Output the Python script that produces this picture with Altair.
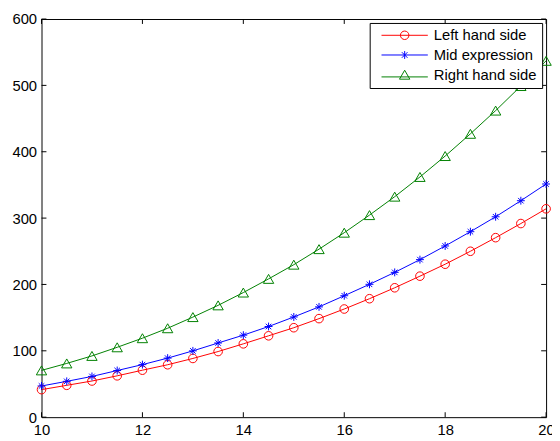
import altair as alt
import pandas as pd

# ---------------- data ----------------
x_values = [10, 10.5, 11, 11.5, 12, 12.5, 13, 13.5, 14, 14.5, 15,
            15.5, 16, 16.5, 17, 17.5, 18, 18.5, 19, 19.5, 20]
left_hand_side = [41.5, 48, 54.5, 62.3, 70.8, 79, 88.5, 98.9, 110.5, 122.6, 134.8,
                  148.5, 163, 178.5, 195, 212.5, 230.5, 250, 270.5, 291.8, 314]
mid_expression = [47, 54, 61.4, 70.3, 79.2, 89, 99.9, 111.8, 123.6, 136.6, 151,
                  166.2, 183, 200.2, 218.2, 237.4, 258, 279.5, 302, 326.2, 351.4]
right_hand_side = [70.5, 81, 92.3, 105.3, 119, 134, 150.8, 168.5, 187.8, 208.4, 229.8,
                   253.2, 278, 304.5, 332.3, 362, 393.5, 427, 462, 499, 537]
series_names = ["Left hand side", "Mid expression", "Right hand side"]
series_colors = ["#ff0000", "#0000ff", "#008000"]
x_ticks = [10, 12, 14, 16, 18, 20]
y_ticks = [0, 100, 200, 300, 400, 500, 600]

rows = []
for name, vals in zip(series_names, [left_hand_side, mid_expression, right_hand_side]):
    for xv, yv in zip(x_values, vals):
        rows.append({"x": xv, "y": yv, "series": name})
df = pd.DataFrame(rows)
xtick_df = pd.DataFrame({"x": x_ticks})
ytick_df = pd.DataFrame({"y": y_ticks})

# ---------------- styling ----------------
W, H = 512, 404
TICK = 5
FONT = "Liberation Sans"
STAR = "M-1,0L1,0M0,-1L0,1M-0.7,-0.7L0.7,0.7M-0.7,0.7L0.7,-0.7"
LEG_CIRCLE = "M-4.7,0L4.7,0M-0.86,0A0.86,0.86,0,1,0,0.86,0A0.86,0.86,0,1,0,-0.86,0"
LEG_STAR = "M-4.7,0L4.7,0M0,-0.8L0,0.8M-0.57,-0.57L0.57,0.57M-0.57,0.57L0.57,-0.57"
LEG_TRI = "M-4.7,0.45L4.7,0.45M0,-0.91L-1.05,0.91L1.05,0.91Z"

xscale = alt.Scale(domain=[10, 20], nice=False, zero=False)
yscale = alt.Scale(domain=[0, 600], nice=False, zero=False)
# data-driven domain (alphabetical = series order) so that this scale's disabled
# legend is not merged with the legend-carrying stroke/shape scales
cscale = alt.Scale(range=series_colors)


def label_axis(orient, values, pad):
    return alt.Axis(orient=orient, values=values, ticks=False, domain=False, grid=False,
                    labelFont=FONT, labelFontSize=15, labelColor="black",
                    labelPadding=pad, labelFlush=False, labelOverlap=False, title=None)


X_AXIS = label_axis("bottom", x_ticks, 6)
Y_AXIS = label_axis("left", y_ticks, 5)
XE = alt.X("x:Q", scale=xscale, axis=X_AXIS)
YE = alt.Y("y:Q", scale=yscale, axis=Y_AXIS)

base = alt.Chart(df)
color = alt.Color("series:N", scale=cscale, legend=None)

lines = base.mark_line(strokeWidth=1).encode(x=XE, y=YE, color=color)

circles = base.transform_filter(alt.datum.series == series_names[0]).mark_point(
    shape="circle", filled=False, size=76, strokeWidth=1, opacity=1
).encode(x=XE, y=YE, color=color)

stars = base.transform_filter(alt.datum.series == series_names[1]).mark_point(
    shape=STAR, filled=False, size=64, strokeWidth=1, opacity=1
).encode(x=XE, y=YE, color=color)

triangles = base.transform_filter(alt.datum.series == series_names[2]).mark_point(
    shape="triangle-up", filled=False, size=110, strokeWidth=1, opacity=1
).encode(x=XE, y=YE, color=color)

# inward-pointing tick marks on all four sides (MATLAB box style)
rule = dict(color="black", strokeWidth=1)
ticks_bottom = alt.Chart(xtick_df).mark_rule(**rule).encode(
    x=XE, y=alt.value(H - TICK), y2=alt.value(H))
ticks_top = alt.Chart(xtick_df).mark_rule(**rule).encode(
    x=XE, y=alt.value(0), y2=alt.value(TICK))
ticks_left = alt.Chart(ytick_df).mark_rule(**rule).encode(
    y=YE, x=alt.value(0), x2=alt.value(TICK))
ticks_right = alt.Chart(ytick_df).mark_rule(**rule).encode(
    y=YE, x=alt.value(W - TICK), x2=alt.value(W))

legend = alt.Legend(
    title=None, orient="none", legendX=333, legendY=4, direction="vertical",
    padding=5, rowPadding=4, strokeColor="black", fillColor="white", cornerRadius=0,
    symbolSize=100, symbolStrokeWidth=1, symbolOpacity=1, symbolOffset=23, labelOffset=22,
    labelFont=FONT, labelFontSize=15, labelColor="black", labelLimit=0,
)

# invisible layer whose only job is to carry the legend (line + marker samples)
legend_layer = base.mark_point(filled=False, opacity=0, strokeWidth=1).encode(
    x=XE, y=YE,
    stroke=alt.Stroke("series:N", scale=alt.Scale(domain=series_names, range=series_colors),
                      legend=legend),
    shape=alt.Shape("series:N", scale=alt.Scale(domain=series_names,
                                                range=[LEG_CIRCLE, LEG_STAR, LEG_TRI]),
                    legend=legend),
)

chart = alt.layer(
    lines, circles, stars, triangles,
    ticks_bottom, ticks_top, ticks_left, ticks_right,
    legend_layer,
).properties(
    width=W, height=H,
    autosize=alt.AutoSizeParams(type="none"),
    padding={"left": 34, "top": 8, "right": 6, "bottom": 21},
).configure_view(stroke="black", strokeWidth=1)

chart.save("out.html", embed_options={"renderer": "svg", "actions": False})
